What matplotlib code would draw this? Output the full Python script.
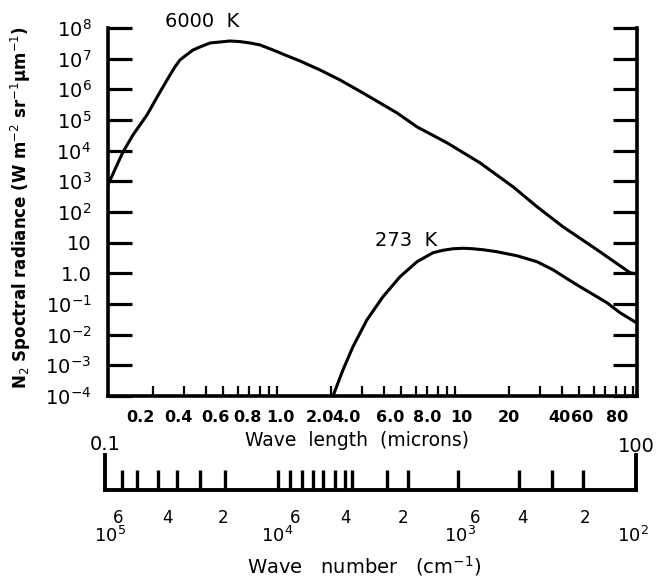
import matplotlib
matplotlib.use("Agg")
import matplotlib.pyplot as plt
from matplotlib.ticker import FixedLocator, NullLocator, NullFormatter, LogLocator, FixedFormatter
from matplotlib.transforms import blended_transform_factory

# ---------------- data ----------------
wl_6000 = [0.1123, 0.1262, 0.1364, 0.1552, 0.1861, 0.2201, 0.2505, 0.267, 0.2851, 0.304,
           0.3373, 0.369, 0.4204, 0.4785, 0.5445, 0.6197, 0.7051, 0.8028, 0.9495, 1.109,
           1.347, 1.744, 2.259, 3.042, 4.722, 6.116, 9.02, 13.82, 21.2, 28.9, 40.4, 62.8,
           96.2, 105.0]
rad_6000 = [769, 3.44e3, 9.1e3, 3.27e4, 1.47e5, 8.2e5, 2.94e6, 5.37e6, 9.1e6, 1.22e7,
            1.92e7, 2.41e7, 3.25e7, 3.50e7, 3.77e7, 3.6e7, 3.25e7, 2.8e7, 1.92e7, 1.32e7,
            8.4e6, 4.28e6, 2.02e6, 7.6e5, 1.70e5, 5.96e4, 1.80e4, 4.0e3, 662, 148, 33, 5.87,
            1.05, 0.95]

wl_273 = [2.063, 2.349, 2.673, 3.204, 3.939, 4.909, 6.116, 7.52, 8.57, 9.74, 11.1, 12.62,
          14.4, 17.2, 22.3, 28.9, 35.5, 42.6, 50.4, 71.4, 84.5, 104.0]
rad_273 = [1.0e-4, 7.2e-4, 4.1e-3, 0.0308, 0.173, 0.775, 2.39, 4.69, 5.65, 6.33, 6.57, 6.33,
           5.87, 5.06, 3.74, 2.39, 1.31, 0.667, 0.366, 0.110, 0.052, 0.025]

y_ticks = [1e-4, 1e-3, 1e-2, 1e-1, 1, 10, 1e2, 1e3, 1e4, 1e5, 1e6, 1e7, 1e8]
y_tick_labels = [r"$10^{-4}$", r"$10^{-3}$", r"$10^{-2}$", r"$10^{-1}$", "1.0", "10",
                 r"$10^{2}$", r"$10^{3}$", r"$10^{4}$", r"$10^{5}$", r"$10^{6}$",
                 r"$10^{7}$", r"$10^{8}$"]

wl_labels = ["0.2", "0.4", "0.6", "0.8", "1.0", "2.0", "4.0", "6.0", "8.0", "10",
             "20", "40", "60", "80"]
wl_label_pos = [0.170, 0.278, 0.449, 0.678, 1.04, 1.744, 2.47, 4.31, 6.96, 10.9,
                20.1, 38.4, 51.7, 81.6]

wn_ticks = [80000, 66000, 50000, 39000, 29000, 21000, 10500, 9000, 7700, 6700, 5900,
            5000, 4400, 4000, 2550, 1940, 1010, 460, 300, 200]
wn_digit_labels = ["6", "4", "2", "6", "4", "2", "6", "4", "2"]
wn_digit_pos = [84500, 44600, 21500, 8450, 4400, 2070, 812, 435, 194]
wn_decade_labels = [r"$10^{5}$", r"$10^{4}$", r"$10^{3}$", r"$10^{2}$"]
wn_decade_pos = [93700, 10700, 987, 104]

# ---------------- figure ----------------
plt.rcParams["font.family"] = ["DejaVu Sans"]
plt.rcParams["mathtext.fontset"] = "dejavusans"

W, H = 656, 577
fig = plt.figure(figsize=(W / 100, H / 100), dpi=100)

def fx(px):
    return px / W

def fy(py):
    return 1 - py / H

ax = fig.add_axes([fx(108), fy(396), fx(637) - fx(108), fy(28) - fy(396)])
ax.set_xscale("log")
ax.set_yscale("log")
ax.set_xlim(0.1123, 105.3)
ax.set_ylim(1e-4, 1e8)

ax.plot(wl_6000, rad_6000, color="black", lw=2.2, solid_joinstyle="round")
ax.plot(wl_273, rad_273, color="black", lw=2.2, solid_joinstyle="round")

for s in ["left", "right", "bottom"]:
    ax.spines[s].set_linewidth(2.6)
ax.spines["top"].set_visible(False)

ax.yaxis.set_major_locator(FixedLocator(y_ticks))
ax.yaxis.set_major_formatter(FixedFormatter(y_tick_labels))
ax.yaxis.set_minor_locator(NullLocator())
ax.tick_params(axis="y", which="major", direction="in", left=True, right=True,
               length=17, width=2.3, pad=12, labelsize=14)

ax.xaxis.set_major_locator(FixedLocator([1, 10, 100]))
ax.xaxis.set_minor_locator(LogLocator(base=10, subs=[2, 3, 4, 5, 6, 7, 8, 9]))
ax.xaxis.set_major_formatter(NullFormatter())
ax.xaxis.set_minor_formatter(NullFormatter())
ax.tick_params(axis="x", which="both", direction="in", bottom=True, top=False,
               length=7, width=1.6)

trx = blended_transform_factory(ax.transData, fig.transFigure)
for lab, pos in zip(wl_labels, wl_label_pos):
    ax.text(pos, fy(417), lab, transform=trx, ha="center", va="center",
            fontsize=11.5, fontweight="bold")

ax.text(0.379, 1.6e8, "6000  K", ha="center", va="center", fontsize=14, clip_on=False)
ax.text(5.30, 11.5, "273  K", ha="center", va="center", fontsize=14)

fig.text(fx(357), fy(440), "Wave  length  (microns)", ha="center", va="center",
         fontsize=13.5)
fig.text(fx(21), fy(208),
         r"N$_2$ Spoctral radiance (W m$^{-2}$ sr$^{-1}$μm$^{-1}$)",
         rotation=90, ha="center", va="center", fontsize=12, fontweight="bold")

# ---------------- wave number axis ----------------
ax2 = fig.add_axes([fx(105), fy(490), fx(636) - fx(105), fy(455) - fy(490)])
ax2.patch.set_alpha(0)
ax2.set_xscale("log")
ax2.set_xlim(1e5, 1e2)
ax2.set_ylim(0, 1)
ax2.spines["top"].set_visible(False)
for s in ["left", "right", "bottom"]:
    ax2.spines[s].set_linewidth(2.8)
ax2.yaxis.set_major_locator(NullLocator())
ax2.yaxis.set_minor_locator(NullLocator())
ax2.xaxis.set_major_locator(FixedLocator(wn_ticks))
ax2.xaxis.set_minor_locator(NullLocator())
ax2.xaxis.set_major_formatter(NullFormatter())
ax2.tick_params(axis="x", which="major", direction="in", bottom=True, top=False,
                length=14.5, width=2.4)

tr2 = blended_transform_factory(ax2.transData, fig.transFigure)
for lab, pos in zip(wn_digit_labels, wn_digit_pos):
    ax2.text(pos, fy(518), lab, transform=tr2, ha="center", va="center", fontsize=12)
for lab, pos in zip(wn_decade_labels, wn_decade_pos):
    ax2.text(pos, fy(536), lab, transform=tr2, ha="center", va="center", fontsize=13)

ax2.text(0.0, fy(445), "0.1", transform=blended_transform_factory(ax2.transAxes, fig.transFigure),
         ha="center", va="center", fontsize=14)
ax2.text(1.0, fy(446), "100", transform=blended_transform_factory(ax2.transAxes, fig.transFigure),
         ha="center", va="center", fontsize=14)

fig.text(fx(364), fy(566), r"Wave   number   (cm$^{-1}$)", ha="center", va="center",
         fontsize=14)

fig.savefig("out.png", dpi=100)
